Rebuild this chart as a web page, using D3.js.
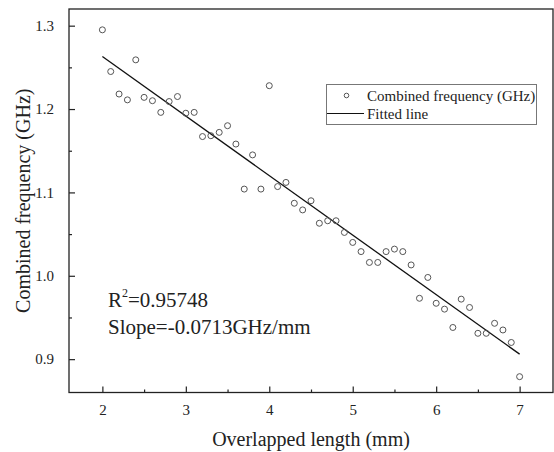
<!DOCTYPE html>
<html><head><meta charset="utf-8">
<script src="https://cdn.jsdelivr.net/npm/d3@7"></script>
<style>
html,body{margin:0;padding:0;background:#fff;}
svg{display:block;}
svg text{font-family:"Liberation Serif","Times New Roman",Times,"DejaVu Serif",serif !important;}
</style></head>
<body>
<svg id="chart" width="554" height="452"></svg>
<script>
// Data
const lengths = [2.0,2.1,2.2,2.3,2.4,2.5,2.6,2.7,2.8,2.9,3.0,3.1,3.2,3.3,3.4,3.5,3.6,3.7,3.8,3.9,4.0,4.1,4.2,4.3,4.4,4.5,4.6,4.7,4.8,4.9,5.0,5.1,5.2,5.3,5.4,5.5,5.6,5.7,5.8,5.9,6.0,6.1,6.2,6.3,6.4,6.5,6.6,6.7,6.8,6.9,7.0];
const frequencies = [1.295,1.245,1.218,1.211,1.259,1.214,1.210,1.196,1.209,1.215,1.195,1.196,1.167,1.168,1.172,1.180,1.158,1.104,1.145,1.104,1.228,1.107,1.112,1.087,1.079,1.090,1.063,1.066,1.066,1.052,1.040,1.029,1.016,1.016,1.029,1.032,1.029,1.013,0.973,0.998,0.967,0.960,0.938,0.972,0.962,0.931,0.931,0.943,0.935,0.920,0.879];
const fitX = [2, 7];
const fitY = [1.263, 0.906];
const xTicks = [2,3,4,5,6,7];
const yTicks = [0.9,1.0,1.1,1.2,1.3];
const xMinor = [2.5,3.5,4.5,5.5,6.5];
const yMinor = [0.95,1.05,1.15,1.25];
const seriesName = "Combined frequency (GHz)";
const fitName = "Fitted line";
const xTitle = "Overlapped length (mm)";
const yTitle = "Combined frequency (GHz)";
const r2Text = "0.95748";
const slopeText = "Slope=-0.0713GHz/mm";

const svg = d3.select("#chart");
const L = 69, R = 553, T = 9, B = 392.5;
const x = d3.scaleLinear().domain([1.6, 7.4]).range([L, R]);
const y = d3.scaleLinear().domain([0.86, 1.32]).range([B, T]);
const axisColor = "#222";

// frame
svg.append("rect").attr("x", L).attr("y", T).attr("width", R - L).attr("height", B - T)
  .attr("fill", "none").attr("stroke", axisColor).attr("stroke-width", 1.3);

// x axis ticks (inward)
const xAxis = svg.append("g").attr("transform", `translate(0,${B})`)
  .call(d3.axisBottom(x).tickValues(xTicks).tickFormat(d3.format("d")).tickSizeInner(-6).tickSizeOuter(0).tickPadding(12));
xAxis.select(".domain").remove();
xAxis.selectAll("line").attr("stroke", axisColor).attr("stroke-width", 1.2);
xAxis.selectAll("text").attr("font-size", 15).attr("fill", "#222");
const xAxisMinor = svg.append("g").attr("transform", `translate(0,${B})`)
  .call(d3.axisBottom(x).tickValues(xMinor).tickFormat("").tickSizeInner(-3).tickSizeOuter(0));
xAxisMinor.select(".domain").remove();
xAxisMinor.selectAll("line").attr("stroke", axisColor).attr("stroke-width", 1.2);

// y axis
const yAxis = svg.append("g").attr("transform", `translate(${L},0)`)
  .call(d3.axisLeft(y).tickValues(yTicks).tickFormat(d3.format(".1f")).tickSizeInner(-6).tickSizeOuter(0).tickPadding(15));
yAxis.select(".domain").remove();
yAxis.selectAll("line").attr("stroke", axisColor).attr("stroke-width", 1.2);
yAxis.selectAll("text").attr("font-size", 15).attr("fill", "#222");
const yAxisMinor = svg.append("g").attr("transform", `translate(${L},0)`)
  .call(d3.axisLeft(y).tickValues(yMinor).tickFormat("").tickSizeInner(-3).tickSizeOuter(0));
yAxisMinor.select(".domain").remove();
yAxisMinor.selectAll("line").attr("stroke", axisColor).attr("stroke-width", 1.2);

// titles
svg.append("text").attr("x", (L + R) / 2).attr("y", 446).attr("text-anchor", "middle")
  .attr("font-size", 20).attr("fill", "#222").text(xTitle);
svg.append("text").attr("transform", `translate(30,${(T + B) / 2}) rotate(-90)`).attr("text-anchor", "middle")
  .attr("font-size", 20).attr("fill", "#222").text(yTitle);

// fitted line
const line = d3.line().x((d, i) => x(fitX[i])).y(d => y(d));
svg.append("path").datum(fitY).attr("d", line).attr("fill", "none").attr("stroke", "#111").attr("stroke-width", 1.3);

// points
svg.append("g").selectAll("circle").data(frequencies).join("circle")
  .attr("cx", (d, i) => x(lengths[i])).attr("cy", d => y(d)).attr("r", 3)
  .attr("fill", "none").attr("stroke", "#555").attr("stroke-width", 1);

// annotation
const ann = svg.append("text").attr("x", 108).attr("y", 307).attr("font-size", 21).attr("fill", "#222");
ann.append("tspan").text("R");
ann.append("tspan").attr("dy", -10).attr("font-size", 12).text("2");
ann.append("tspan").attr("dy", 10).text("=" + r2Text);
svg.append("text").attr("x", 108).attr("y", 334).attr("font-size", 21).attr("fill", "#222").text(slopeText);

// legend
const lg = svg.append("g");
lg.append("rect").attr("x", 326.5).attr("y", 84.5).attr("width", 210).attr("height", 40)
  .attr("fill", "#fff").attr("stroke", "#777").attr("stroke-width", 1);
lg.append("circle").attr("cx", 346.5).attr("cy", 95.5).attr("r", 2.3).attr("fill", "none").attr("stroke", "#555");
lg.append("text").attr("x", 367).attr("y", 100.5).attr("font-size", 15).attr("fill", "#222").text(seriesName);
lg.append("line").attr("x1", 327).attr("x2", 364).attr("y1", 113.5).attr("y2", 113.5).attr("stroke", "#111").attr("stroke-width", 1.2);
lg.append("text").attr("x", 367).attr("y", 119).attr("font-size", 15).attr("fill", "#222").text(fitName);
</script>
</body></html>
